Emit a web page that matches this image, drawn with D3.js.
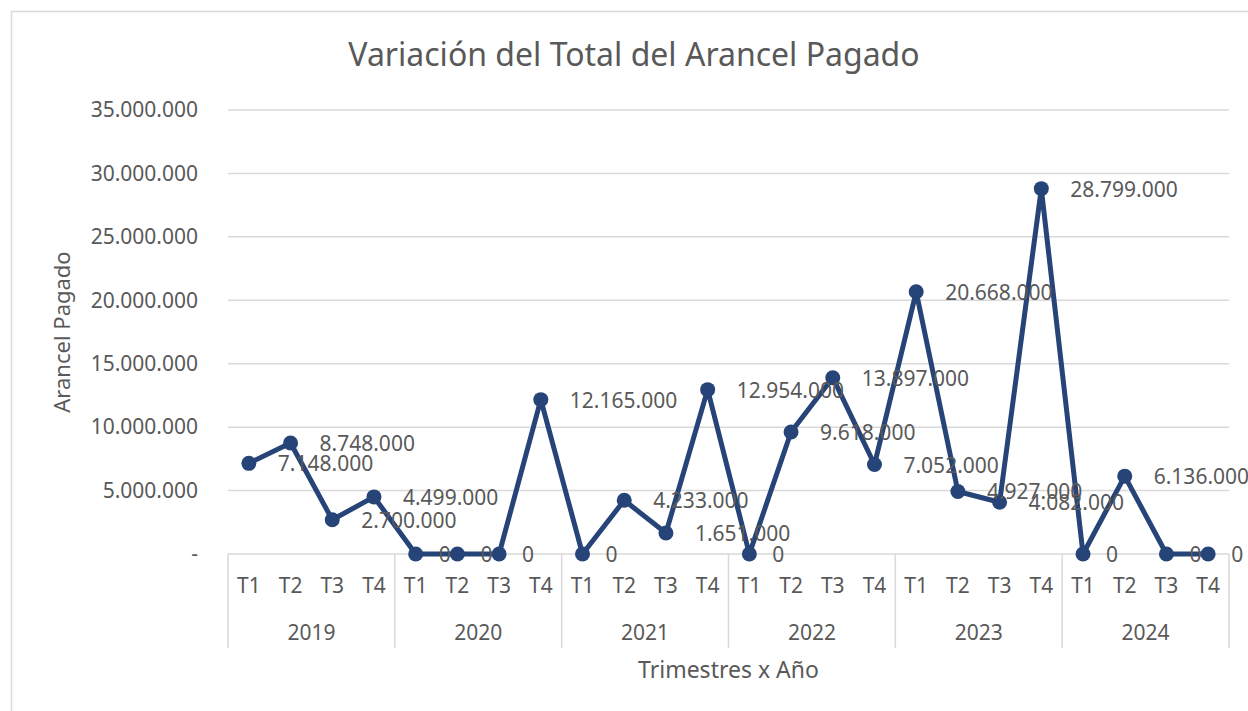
<!DOCTYPE html>
<html>
<head>
<meta charset="utf-8">
<script src="https://cdn.jsdelivr.net/npm/d3@7"></script>
<style>
  body { margin: 0; background: #fff; }
  svg text { font-family: "Noto Sans", "Open Sans", sans-serif; fill: #595959; }
</style>
</head>
<body>
<div id="chart"></div>
<script>
// Data
var years = ["2019", "2020", "2021", "2022", "2023", "2024"];
var quarters = ["T1", "T2", "T3", "T4"];
var values = [
  7148000, 8748000, 2700000, 4499000,
  0, 0, 0, 12165000,
  0, 4233000, 1651000, 12954000,
  0, 9618000, 13897000, 7052000,
  20668000, 4927000, 4082000, 28799000,
  0, 6136000, 0, 0
];
var yTicks = [0, 5000000, 10000000, 15000000, 20000000, 25000000, 30000000, 35000000];

document.addEventListener('DOMContentLoaded', function() {
  var W = 1248, H = 711;
  var margin = {top: 110, right: 19, bottom: 157, left: 228},
      width = W - margin.left - margin.right,
      height = H - margin.top - margin.bottom;

  var svg = d3.select("#chart")
    .append("svg")
      .attr("width", W)
      .attr("height", H);

  // Chart border
  svg.append("rect")
    .attr("x", 11.5).attr("y", 11.5)
    .attr("width", W + 10).attr("height", H + 10)
    .attr("fill", "none").attr("stroke", "#d9d9d9").attr("stroke-width", 1.5);

  var g = svg.append("g")
    .attr("transform", "translate(" + margin.left + "," + margin.top + ")");

  var cats = [];
  years.forEach(function(y) {
    quarters.forEach(function(q) { cats.push(y + "-" + q); });
  });
  var data = cats.map(function(c, i) { return {cat: c, year: c.split("-")[0], q: c.split("-")[1], v: values[i]}; });

  var x = d3.scaleBand().domain(cats).range([0, width]);
  var xYear = d3.scaleBand().domain(years).range([0, width]);
  var y = d3.scaleLinear().domain([0, 35000000]).range([height, 0]);

  var fmt = function(d) {
    return d === 0 ? "-" : d3.format(",")(d).replace(/,/g, ".");
  };

  // Gridlines
  g.selectAll(".grid")
    .data(yTicks.filter(function(d) { return d > 0; }))
    .enter().append("line")
      .attr("x1", 0).attr("x2", width)
      .attr("y1", function(d) { return y(d); })
      .attr("y2", function(d) { return y(d); })
      .attr("stroke", "#d9d9d9").attr("stroke-width", 1.5);

  // Y axis
  var yAxis = g.append("g")
    .call(d3.axisLeft(y).tickValues(yTicks).tickFormat(fmt).tickSize(0).tickPadding(30));
  yAxis.select(".domain").remove();
  yAxis.selectAll("text")
    .style("font-size", "21px")
    .attr("fill", "#595959");

  // X axis baseline and year separators
  g.append("line")
    .attr("x1", 0).attr("x2", width)
    .attr("y1", height).attr("y2", height)
    .attr("stroke", "#d9d9d9").attr("stroke-width", 1.5);

  var seps = years.map(function(yr) { return xYear(yr); }).concat([width]);
  g.selectAll(".sep")
    .data(seps)
    .enter().append("line")
      .attr("x1", function(d) { return d; }).attr("x2", function(d) { return d; })
      .attr("y1", height).attr("y2", height + 94)
      .attr("stroke", "#d9d9d9").attr("stroke-width", 1.5);

  // Quarter labels
  g.selectAll(".qlab")
    .data(data)
    .enter().append("text")
      .attr("x", function(d) { return x(d.cat) + x.bandwidth() / 2; })
      .attr("y", height + 39)
      .attr("text-anchor", "middle")
      .style("font-size", "21px")
      .text(function(d) { return d.q; });

  // Year labels
  g.selectAll(".ylab")
    .data(years)
    .enter().append("text")
      .attr("x", function(d) { return xYear(d) + xYear.bandwidth() / 2; })
      .attr("y", height + 86)
      .attr("text-anchor", "middle")
      .style("font-size", "21px")
      .text(function(d) { return d; });

  // Line
  var line = d3.line()
    .x(function(d) { return x(d.cat) + x.bandwidth() / 2; })
    .y(function(d) { return y(d.v); });

  g.append("path")
    .datum(data)
    .attr("fill", "none")
    .attr("stroke", "#264478")
    .attr("stroke-width", 5)
    .attr("stroke-linejoin", "round")
    .attr("d", line);

  g.selectAll(".dot")
    .data(data)
    .enter().append("circle")
      .attr("cx", function(d) { return x(d.cat) + x.bandwidth() / 2; })
      .attr("cy", function(d) { return y(d.v); })
      .attr("r", 7.5)
      .attr("fill", "#264478");

  // Data labels, to the right of each point
  g.selectAll(".dlab")
    .data(data)
    .enter().append("text")
      .attr("x", function(d) { return x(d.cat) + x.bandwidth() / 2 + (d.v === 0 ? 23 : 29); })
      .attr("y", function(d) { return y(d.v); })
      .attr("dy", "0.38em")
      .style("font-size", "21px")
      .attr("fill", "#404040")
      .text(function(d) { return d.v === 0 ? "0" : fmt(d.v); });

  // Title
  svg.append("text")
    .attr("x", 634).attr("y", 66)
    .attr("text-anchor", "middle")
    .style("font-size", "32px")
    .text("Variación del Total del Arancel Pagado");

  // Axis titles
  svg.append("text")
    .attr("transform", "translate(70," + (margin.top + height / 2) + ") rotate(-90)")
    .attr("text-anchor", "middle")
    .style("font-size", "22px")
    .text("Arancel Pagado");

  svg.append("text")
    .attr("x", margin.left + width / 2).attr("y", 678)
    .attr("text-anchor", "middle")
    .style("font-size", "23px")
    .text("Trimestres x Año");
});
</script>
</body>
</html>
